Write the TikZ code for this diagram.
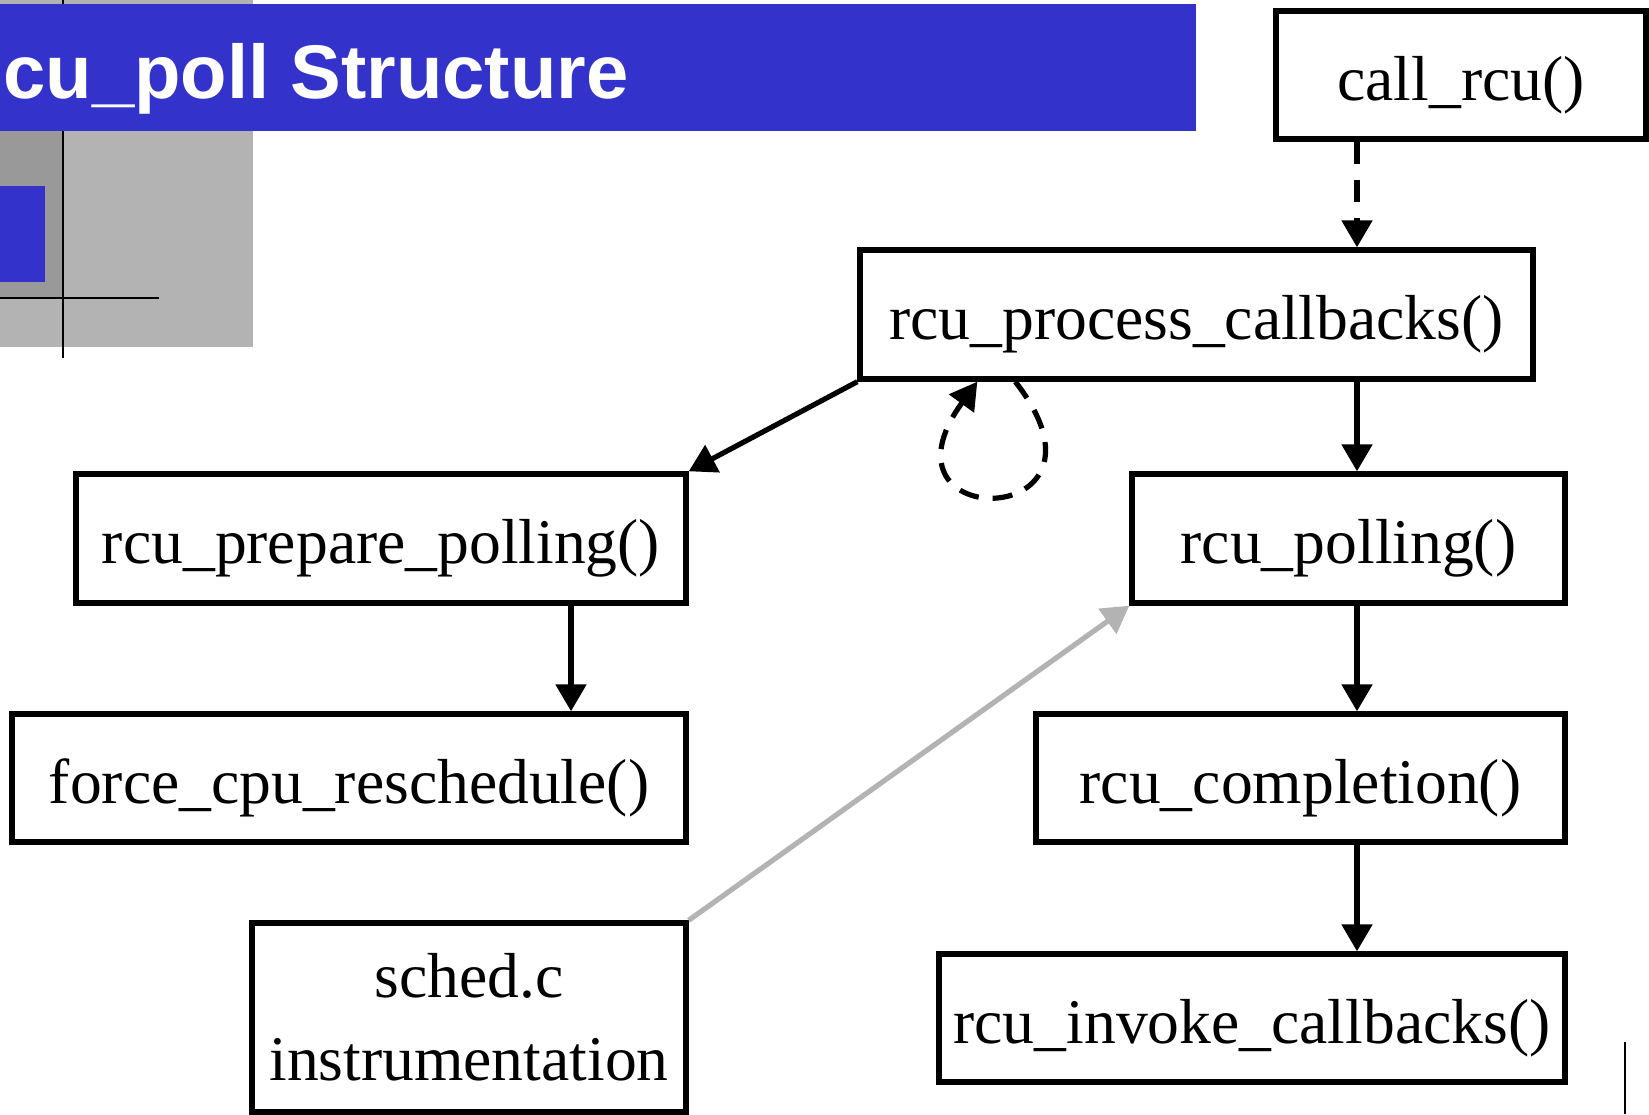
\documentclass[tikz,border=0pt]{standalone}
\usepackage{fontspec}
\setmainfont{Liberation Serif}
\newfontfamily\titlesans{Liberation Sans}
\usetikzlibrary{arrows.meta}
\definecolor{slideblue}{RGB}{51,51,204}
\definecolor{slidegray}{RGB}{179,179,179}
\definecolor{shadegray}{RGB}{153,153,153}

\begin{document}
\begin{tikzpicture}[x=0.5pt,y=-0.5pt,
  fn/.style={draw,line width=2.7pt,inner sep=0pt,align=center,
    font=\fontsize{31.8}{41.5}\selectfont},
  fnline/.style={fn,text height=44.5pt,text depth=19.5pt},
  arr/.style={line width=2.6pt,-{Triangle[length=13.5pt,width=15pt]}}]
  \useasboundingbox (0,0) rectangle (1649,1114);
  % slide decoration
  \fill[slidegray] (0,0) rectangle (253,347);
  \fill[shadegray] (0,131) rectangle (63,298);
  \fill[slideblue] (0,186) rectangle (45,282);
  \draw[line width=0.75pt] (63,0) -- (63,358);
  \draw[line width=0.75pt] (0,298) -- (159,298);
  \fill[slideblue] (0,4) rectangle (1196,131);
  \node[anchor=base east,text=white,inner sep=0pt,
    font=\titlesans\bfseries\fontsize{38}{40}\selectfont]
    (title) at (629,98) {cu\_poll Structure};
  \draw[line width=0.75pt] (1625,1042) -- (1625,1114);

  % functions
  \node[fnline,minimum width=185pt,minimum height=64pt] (call) at (1461,75) {call\_rcu()};
  \node[fnline,minimum width=336.5pt,minimum height=64.5pt] (proc) at (1196.5,314.5) {rcu\_process\_callbacks()};
  \node[fnline,minimum width=305pt,minimum height=64.5pt] (prep) at (381,538.5) {rcu\_prepare\_polling()};
  \node[fnline,minimum width=216.5pt,minimum height=64.5pt] (poll) at (1348.5,538.5) {rcu\_polling()};
  \node[fnline,minimum width=337pt,minimum height=64pt] (force) at (349,778) {force\_cpu\_reschedule()};
  \node[fnline,minimum width=264.5pt,minimum height=64pt] (compl) at (1300.5,778) {rcu\_completion()};
  \node[fn,minimum width=217pt,minimum height=94.5pt] (sched) at (469,1017.5) {sched.c\\instrumentation};
  \node[fnline,minimum width=313pt,minimum height=64pt] (invoke) at (1252,1018) {rcu\_invoke\_callbacks()};

  \coordinate (spine) at (1357,0);
  \coordinate (leftspine) at (571,0);

  % calls
  \draw[arr,dash pattern=on 11pt off 8pt] (call.south -| spine) -- (proc.north -| spine);
  \draw[arr] (proc.south west) -- (prep.north east);
  \draw[arr] (proc.south -| spine) -- (poll.north -| spine);
  \draw[arr] (prep.south -| leftspine) -- (force.north -| leftspine);
  \draw[arr] (poll.south -| spine) -- (compl.north -| spine);
  \draw[arr] (compl.south -| spine) -- (invoke.north -| spine);
  \draw[arr,slidegray] (sched.north east) -- (poll.south west);
  \draw[arr,dash pattern=on 10pt off 7pt]
    ([xshift=79pt]proc.south west) to[out=-52,in=-126,distance=95pt]
    ([xshift=60pt]proc.south west);
\end{tikzpicture}
\end{document}
